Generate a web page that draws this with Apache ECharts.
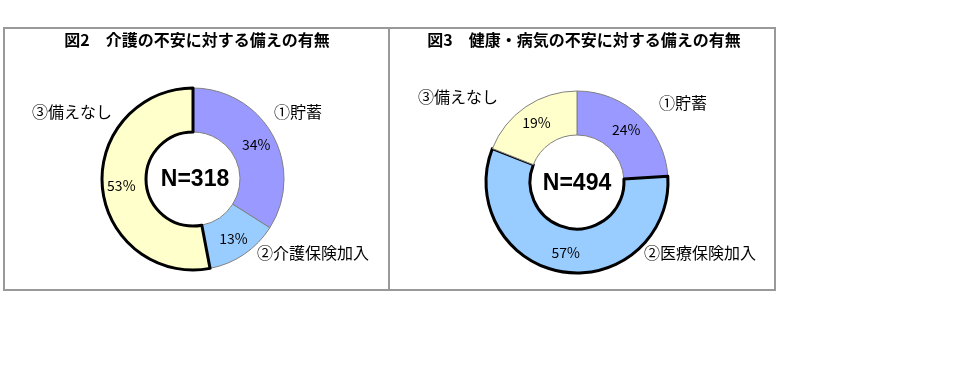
<!DOCTYPE html>
<html><head><meta charset="utf-8">
<script src="https://cdn.jsdelivr.net/npm/echarts@6/dist/echarts.min.js"></script>
<style>html,body{margin:0;padding:0;background:#fff}#c{width:957px;height:365px}</style>
</head><body><div id="c"></div>
<script>
const categories1 = ['①貯蓄', '②介護保険加入', '③備えなし'];
const values1 = [34, 13, 53];
const categories2 = ['①貯蓄', '②医療保険加入', '③備えなし'];
const values2 = [24, 57, 19];
const titles = ['図2　介護の不安に対する備えの有無', '図3　健康・病気の不安に対する備えの有無'];
const totals = ['N=318', 'N=494'];
const colors = ['#9999FF', '#99CCFF', '#FFFFCC'];
const highlight1 = 2, highlight2 = 1;

const font = '"Noto Sans CJK JP", "Noto Sans", sans-serif';
function mkData(cats, vals, hi) {
  return cats.map((c, i) => ({
    name: c, value: vals[i],
    itemStyle: {
      color: colors[i],
      borderColor: i === hi ? '#000' : '#808080',
      borderWidth: i === hi ? 3 : 1
    }
  }));
}
function mkSeries(cats, vals, hi, cx, cy) {
  return {
    type: 'pie', center: [cx, cy], radius: [47, 91], startAngle: 90,
    clockwise: true, avoidLabelOverlap: false,
    label: { show: true, position: 'inside', formatter: '{c}%', color: '#000',
      fontFamily: font, fontSize: 14 },
    labelLine: { show: false },
    emphasis: { disabled: true },
    data: mkData(cats, vals, hi)
  };
}
const chart = echarts.init(document.getElementById('c'), null, { renderer: 'canvas' });
const txt = (x, y, s, extra) => ({ type: 'text', x: x, y: y, z: 100,
  style: Object.assign({ text: s, fill: '#000', font: '16px ' + font, textVerticalAlign: 'middle' }, extra || {}) });
chart.setOption({
  animation: false,
  series: [
    mkSeries(categories1, values1, highlight1, 193, 179),
    mkSeries(categories2, values2, highlight2, 577, 182)
  ],
  graphic: [
    { type: 'rect', shape: { x: 4, y: 28, width: 385, height: 262 }, style: { fill: 'none', stroke: '#999', lineWidth: 2 } },
    { type: 'rect', shape: { x: 389, y: 28, width: 386, height: 262 }, style: { fill: 'none', stroke: '#999', lineWidth: 2 } },
    txt(197, 40, titles[0], { font: 'bold 16px ' + font, textAlign: 'center' }),
    txt(584, 40, titles[1], { font: 'bold 16px ' + font, textAlign: 'center' }),
    txt(195, 180, totals[0], { font: 'bold 23px "Liberation Sans", Arial, sans-serif', textAlign: 'center' }),
    txt(577, 184, totals[1], { font: 'bold 23px "Liberation Sans", Arial, sans-serif', textAlign: 'center' }),
    txt(274, 112, categories1[0]),
    txt(257, 253, categories1[1]),
    txt(32, 112, categories1[2]),
    txt(659, 103, categories2[0]),
    txt(644, 253, categories2[1]),
    txt(418, 97, categories2[2])
  ]
});
</script></body></html>
